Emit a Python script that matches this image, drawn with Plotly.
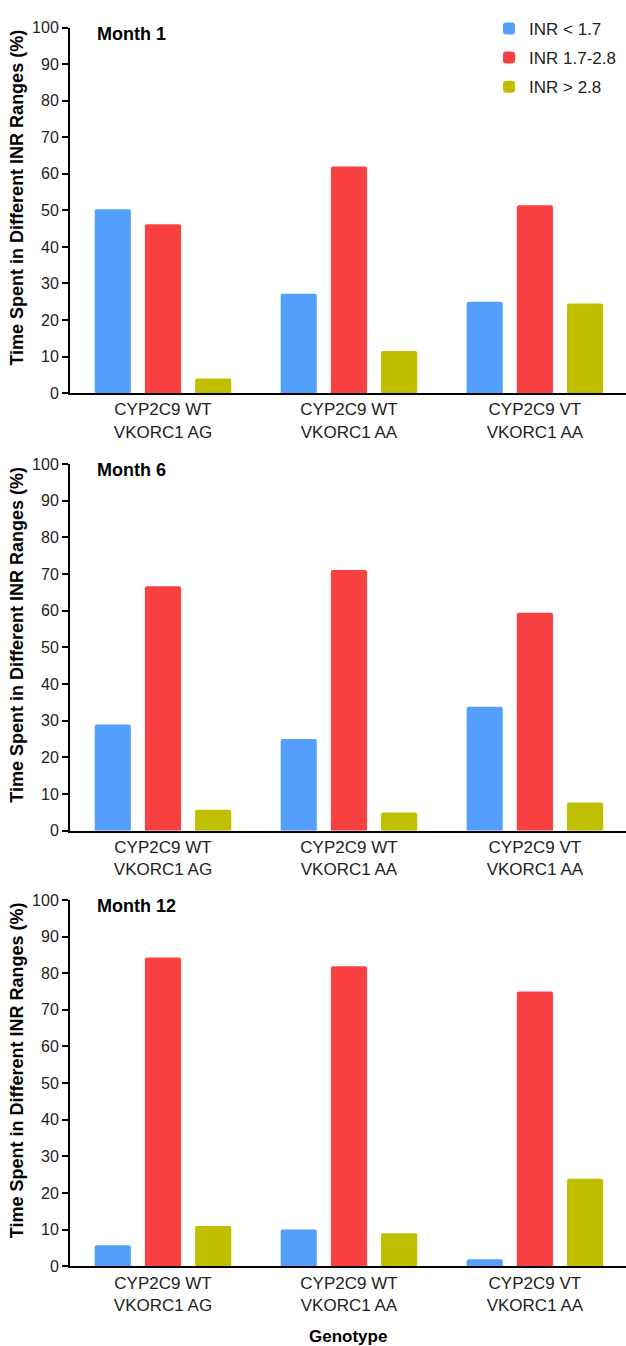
import plotly.graph_objects as go
from plotly.subplots import make_subplots

categories = ["CYP2C9 WT<br>VKORC1 AG", "CYP2C9 WT<br>VKORC1 AA", "CYP2C9 VT<br>VKORC1 AA"]
series_names = ["INR < 1.7", "INR 1.7-2.8", "INR > 2.8"]
series_colors = ["#539ffb", "#f84040", "#bfbf00"]
panel_titles = ["Month 1", "Month 6", "Month 12"]

month1_low = [50.3, 27.2, 25.0]
month1_mid = [46.2, 62.0, 51.4]
month1_high = [4.0, 11.5, 24.5]

month6_low = [29.0, 25.0, 33.8]
month6_mid = [66.7, 71.1, 59.5]
month6_high = [5.7, 5.0, 7.7]

month12_low = [5.7, 10.0, 1.9]
month12_mid = [84.3, 81.9, 75.0]
month12_high = [11.0, 9.0, 23.9]

y_ticks = [0, 10, 20, 30, 40, 50, 60, 70, 80, 90, 100]

panels = [
    [month1_low, month1_mid, month1_high],
    [month6_low, month6_mid, month6_high],
    [month12_low, month12_mid, month12_high],
]

FONT = "Liberation Sans, Arial, sans-serif"
H = 1346
fig = make_subplots(rows=3, cols=1)

for p, series in enumerate(panels):
    for s, vals in enumerate(series):
        fig.add_trace(
            go.Bar(
                x=categories,
                y=vals,
                name=series_names[s],
                marker=dict(color=series_colors[s], line=dict(width=0), cornerradius=2),
                showlegend=(p == 0),
                legendgroup=series_names[s],
            ),
            row=p + 1,
            col=1,
        )

# pixel domains (top, bottom) of each panel plot area
pix = [(20, 390), (462, 833.3), (903.3, 1274.3)]
for i, (top, bot) in enumerate(pix):
    ya = "yaxis" if i == 0 else f"yaxis{i+1}"
    xa = "xaxis" if i == 0 else f"xaxis{i+1}"
    fig.layout[ya].update(
        domain=[1 - bot / H, 1 - top / H],
        range=[0, 100],
        tickvals=y_ticks,
        showline=True,
        linecolor="black",
        linewidth=2,
        ticks="outside",
        ticklen=6,
        tickwidth=2,
        tickcolor="black",
        showgrid=False,
        zeroline=False,
        tickfont=dict(family=FONT, size=16, color="#222"),
    )
    fig.layout[xa].update(
        range=[-0.5, 2.49],
        showline=True,
        linecolor="black",
        linewidth=2,
        ticks="",
        showgrid=False,
        zeroline=False,
        tickfont=dict(family=FONT, size=17, color="#222"),
        ticklabelstandoff=0,
    )
    fig.add_annotation(
        text=f"<b>{panel_titles[i]}</b>",
        xref=f"x{'' if i == 0 else i+1} domain",
        yref=f"y{'' if i == 0 else i+1} domain",
        x=0.045,
        y=1 - 6 / (bot - top),
        xanchor="left",
        yanchor="middle",
        showarrow=False,
        font=dict(family=FONT, size=18, color="black"),
    )
    # y-axis title
    fig.add_annotation(
        text="<b>Time Spent in Different INR Ranges (%)</b>",
        xref="paper",
        yref="paper",
        x=(17 - 70) / 556,
        y=1 - ((top + bot) / 2 - 13) / H,
        xanchor="center",
        yanchor="middle",
        textangle=-90,
        showarrow=False,
        font=dict(family=FONT, size=18, color="black"),
    )

fig.add_annotation(
    text="<b>Genotype</b>",
    xref="paper",
    yref="paper",
    x=0.5,
    y=1 - 1345 / H,
    xanchor="center",
    yanchor="middle",
    showarrow=False,
    font=dict(family=FONT, size=17, color="black"),
)

fig.update_layout(
    width=626,
    height=H,
    margin=dict(l=70, r=0, t=0, b=0),
    plot_bgcolor="white",
    paper_bgcolor="white",
    barmode="group",
    bargap=0.19,
    bargroupgap=0.28,
    legend=dict(
        x=(489 - 70) / 556,
        y=1 - 3 / H,
        xanchor="left",
        yanchor="top",
        font=dict(family=FONT, size=17, color="#222"),
        tracegroupgap=4,
        bgcolor="rgba(0,0,0,0)",
    ),
)

fig.write_html("out.html")
